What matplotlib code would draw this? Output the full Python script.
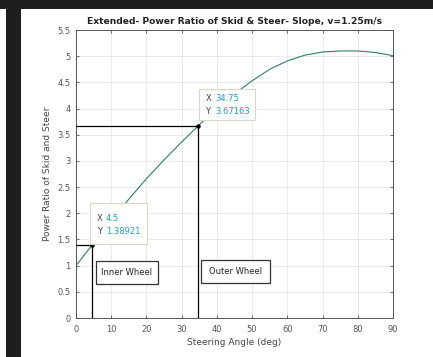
import matplotlib
matplotlib.use("Agg")
import matplotlib.pyplot as plt
from matplotlib.patches import Rectangle
import numpy as np

# data
angle = [0, 5, 10, 15, 20, 25, 30, 35, 40, 45, 50, 55, 60, 65, 70, 75, 80, 85, 90]
ratio = [1.00, 1.43, 1.86, 2.27, 2.66, 3.02, 3.36, 3.69, 4.00, 4.28, 4.53, 4.75, 4.91,
         5.02, 5.08, 5.10, 5.10, 5.07, 5.01]
tip_x = [4.5, 34.75]
tip_y = [1.38921, 3.67163]
tip_xlabels = ["4.5", "34.75"]
tip_ylabels = ["1.38921", "3.67163"]
wheel_labels = ["Inner Wheel", "Outer Wheel"]
xticks = list(range(0, 91, 10))
yticks = [0, 0.5, 1, 1.5, 2, 2.5, 3, 3.5, 4, 4.5, 5, 5.5]
ytick_labels = ["0", "0.5", "1", "1.5", "2", "2.5", "3", "3.5", "4", "4.5", "5", "5.5"]

fig = plt.figure(figsize=(4.33, 3.57), dpi=100)
fig.patch.set_facecolor("white")
# dark frame bits
fig.patches.append(Rectangle((0, 1 - 9 / 357), 1, 9 / 357, transform=fig.transFigure,
                             facecolor="#1e1e1e", edgecolor="none", zorder=0))
fig.patches.append(Rectangle((6 / 433, 0), 15 / 433, 1, transform=fig.transFigure,
                             facecolor="#1e1e1e", edgecolor="none", zorder=0))

ax = fig.add_axes([76 / 433, 39 / 357, 317 / 433, 288 / 357])
ax.plot(angle, ratio, color="#2e7d6e", lw=0.8, zorder=2)

# guide lines to the data tips
for x, y in zip(tip_x, tip_y):
    ax.plot([0, x], [y, y], color="black", lw=0.9, zorder=3)
    ax.plot([x, x], [0, y], color="black", lw=0.9, zorder=3)
ax.plot(tip_x, tip_y, "o", color="black", ms=2.2, zorder=4)

ax.set_xlim(0, 90)
ax.set_ylim(0, 5.5)
ax.set_xticks(xticks)
ax.set_yticks(yticks)
ax.set_yticklabels(ytick_labels)
ax.grid(True, color="#e6e6e6", lw=0.6)
ax.set_axisbelow(True)
ax.tick_params(direction="in", length=2.5, labelsize=6, colors="#555555",
               top=True, right=True, width=0.6)
ax.tick_params(axis="x", pad=5)
ax.tick_params(axis="y", pad=4)
for s in ax.spines.values():
    s.set_color("#555555")
    s.set_linewidth(0.7)

ax.set_title("Extended- Power Ratio of Skid & Steer- Slope, v=1.25m/s",
             fontsize=6.6, fontweight="bold", color="#222222", pad=4)
ax.set_xlabel("Steering Angle (deg)", fontsize=6.5, color="#444444", labelpad=3)
ax.set_ylabel("Power Ratio of Skid and Steer", fontsize=6.5, color="#444444", labelpad=4)

# data tip boxes (axes fractions)
tip_boxes = [(0.044, 0.257, 0.180, 0.142), (0.388, 0.6875, 0.177, 0.108)]
tip_text_pos = [(0.065, 0.347, 0.299), (0.408, 0.762, 0.716)]
for (bx, by, bw, bh), (tx, ty1, ty2), xl, yl in zip(tip_boxes, tip_text_pos,
                                                     tip_xlabels, tip_ylabels):
    ax.add_patch(Rectangle((bx, by), bw, bh, transform=ax.transAxes,
                           facecolor="white", edgecolor="#d8d8c8", lw=0.8, zorder=5))
    ax.text(tx, ty1, "X", transform=ax.transAxes, fontsize=6, color="#444444",
            va="center", zorder=6)
    ax.text(tx + 0.03, ty1, xl, transform=ax.transAxes, fontsize=6, color="#1a9fc0",
            va="center", zorder=6)
    ax.text(tx, ty2, "Y", transform=ax.transAxes, fontsize=6, color="#444444",
            va="center", zorder=6)
    ax.text(tx + 0.03, ty2, yl, transform=ax.transAxes, fontsize=6, color="#1a9fc0",
            va="center", zorder=6)

# wheel label boxes
wheel_boxes = [(0.063, 0.118, 0.196, 0.080), (0.394, 0.120, 0.218, 0.080)]
for (bx, by, bw, bh), lab in zip(wheel_boxes, wheel_labels):
    ax.add_patch(Rectangle((bx, by), bw, bh, transform=ax.transAxes,
                           facecolor="white", edgecolor="#333333", lw=0.9, zorder=5))
    ax.text(bx + bw / 2, by + bh / 2, lab, transform=ax.transAxes, fontsize=6,
            color="#222222", ha="center", va="center", zorder=6)

fig.savefig("out.png", dpi=100)
